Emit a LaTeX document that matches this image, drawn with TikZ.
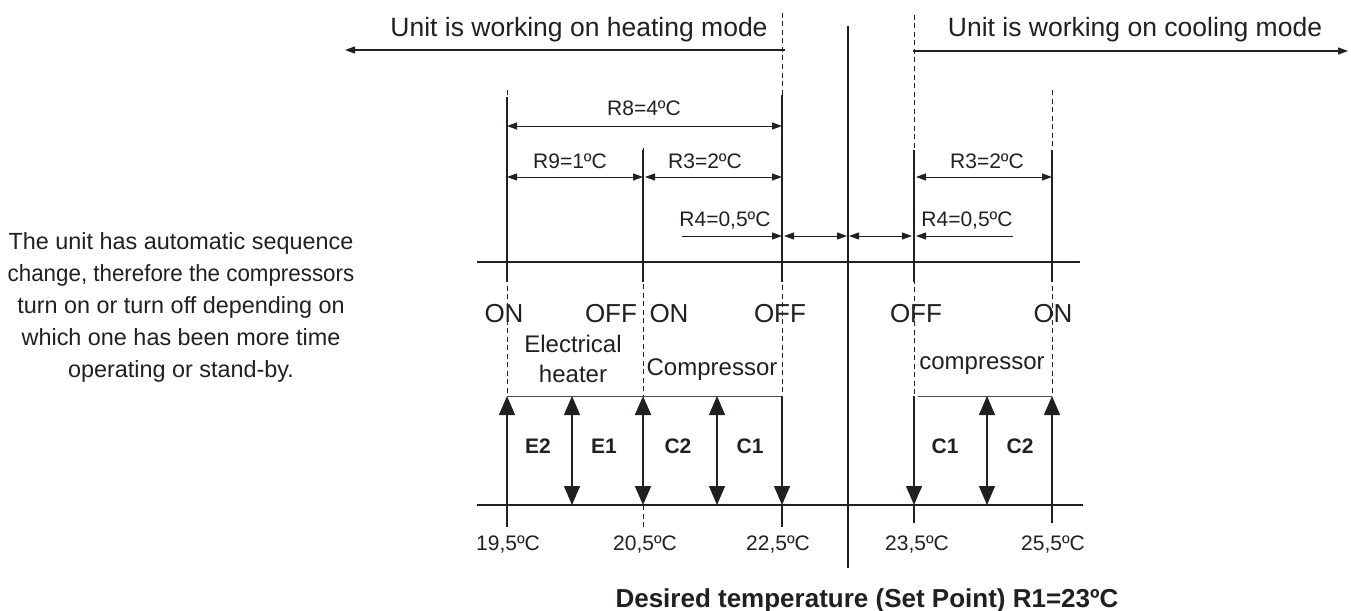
\documentclass[tikz,border=0pt]{standalone}
\usepackage{graphicx}
\usepackage{fontspec}
\setmainfont{Liberation Sans}
\usetikzlibrary{arrows.meta}
\definecolor{ink}{HTML}{231F20}
\newcommand\fhead{\fontsize{26.5}{30}\selectfont}
\newcommand\fonoff{\fontsize{26}{30}\selectfont}
\newcommand\fmid{\fontsize{24}{28}\selectfont}
\newcommand\fdimtxt{\fontsize{21}{25}\selectfont}
\newcommand\fboldlab{\fontsize{21}{25}\selectfont\bfseries}
\newcommand\ftitle{\fontsize{26}{30}\selectfont\bfseries}
\newcommand\fpara{\fontsize{23.4}{32}\selectfont}
\begin{document}
\begin{tikzpicture}[x=1pt,y=-1pt,
  every node/.style={inner sep=0pt, text=ink},
  solidln/.style={draw=ink, line width=1.3pt},
  thinln/.style={draw=ink!80, line width=1pt},
  dashln/.style={draw=ink, line width=0.9pt, dash pattern=on 5pt off 3.5pt},
  dimarr/.style={draw=ink, line width=1pt, {Triangle[length=10pt,width=7pt]}-{Triangle[length=10pt,width=7pt]}},
  dimone/.style={draw=ink, line width=1pt, -{Triangle[length=10pt,width=7pt]}},
  toparr/.style={draw=ink, line width=1.1pt, -{Triangle[length=10pt,width=7pt]}},
  bigup/.style={draw=ink, line width=1.3pt, -{Triangle[length=19pt,width=16pt]}},
  bigboth/.style={draw=ink, line width=1.3pt, {Triangle[length=19pt,width=16pt]}-{Triangle[length=19pt,width=16pt]}}
]
\useasboundingbox (0,0) rectangle (1351,610);

% key coordinates
\coordinate (hL) at (345,50);
\coordinate (hR) at (785,50);
\coordinate (cL) at (913,51);
\coordinate (cR) at (1348,51);
\coordinate (midT) at (848,26);
\coordinate (midB) at (848,568);

% texts top
\node[anchor=base] (heat) at (579,37) {\fhead Unit is working on heating mode};
\node[anchor=base] (cool) at (1135,37) {\fhead Unit is working on cooling mode};
\draw[toparr] (hR) -- (hL);
\draw[toparr] (cL) -- (cR);

% central line
\draw[ink, line width=1.6pt] (midT) -- (midB);

% vertical extension lines
\draw[dashln] (507,90) -- (507,396);
\draw[solidln] (507,97) -- (507,282);
\draw[dashln] (643,148) -- (643,396);
\draw[solidln] (643,150) -- (643,282);
\draw[dashln] (643,505) -- (643,527);
\draw[dashln] (782,13) -- (782,396);
\draw[solidln] (782,95) -- (782,282);
\draw[dashln] (914,15) -- (914,396);
\draw[solidln] (914,150) -- (914,282);
\draw[dashln] (1052,90) -- (1052,396);
\draw[solidln] (1052,150) -- (1052,282);

% horizontal lines
\draw[solidln] (477,262) -- (1080,262);
\draw[solidln] (477,505) -- (1083,505);

% dimension arrows
\draw[dimarr] (507,126) -- (782,126);
\node[anchor=base] (r8) at (644,115) {\fdimtxt R8=4ºC};
\draw[dimarr] (507,177) -- (643,177);
\node[anchor=base] (r9) at (570,168) {\fdimtxt R9=1ºC};
\draw[dimarr] (645,177) -- (782,177);
\node[anchor=base] (r3a) at (705,168) {\fdimtxt R3=2ºC};
\draw[dimone] (682,236) -- (782,236);
\node[anchor=base] (r4a) at (725,226) {\fdimtxt R4=0,5ºC};
\draw[dimarr] (784,236) -- (847,236);
\draw[dimarr] (849,236) -- (912,236);
\draw[dimone] (1013,236) -- (916,236);
\node[anchor=base] (r4b) at (967,226) {\fdimtxt R4=0,5ºC};
\draw[dimarr] (916,177) -- (1052,177);
\node[anchor=base] (r3b) at (987,168) {\fdimtxt R3=2ºC};

% ON / OFF
\node[anchor=base] (on1) at (504,322) {\fonoff ON};
\node[anchor=base] (off1) at (611,322) {\fonoff OFF};
\node[anchor=base] (on2) at (669,322) {\fonoff ON};
\node[anchor=base] (off2) at (780,322) {\fonoff OFF};
\node[anchor=base] (off3) at (916,322) {\fonoff OFF};
\node[anchor=base] (on3) at (1053,322) {\fonoff ON};

\node[anchor=base] (elec) at (573,352) {\fmid Electrical};
\node[anchor=base] (heater) at (573,382) {\fmid heater};
\node[anchor=base] (compA) at (712,375) {\fmid Compressor};
\node[anchor=base] (compB) at (982,369) {\fmid compressor};

% box top lines
\draw[thinln] (507,396) -- (782,396);
\draw[thinln] (918,396) -- (1052,396);

% vertical big arrows
\draw[bigup] (507,527) -- (507,396);
\draw[bigboth] (572,396) -- (572,505);
\draw[bigboth, line width=2pt] (643,396) -- (643,505);
\draw[bigboth] (717,396) -- (717,505);
\draw[bigup] (782,396) -- (782,505);
\draw[solidln] (782,505) -- (782,527);
\draw[bigup] (914,396) -- (914,505);
\draw[solidln] (914,505) -- (914,523);
\draw[bigboth] (987,396) -- (987,505);
\draw[bigup] (1052,523) -- (1052,396);

% bold labels
\node[anchor=base] (e2) at (538,453) {\fboldlab E2};
\node[anchor=base] (e1) at (604,453) {\fboldlab E1};
\node[anchor=base] (c2a) at (678,453) {\fboldlab C2};
\node[anchor=base] (c1a) at (750,453) {\fboldlab C1};
\node[anchor=base] (c1b) at (945,453) {\fboldlab C1};
\node[anchor=base] (c2b) at (1020,453) {\fboldlab C2};

% temperatures
\node[anchor=base] (t195) at (508,550) {\fdimtxt 19,5ºC};
\node[anchor=base] (t205) at (645,550) {\fdimtxt 20,5ºC};
\node[anchor=base] (t225) at (778,550) {\fdimtxt 22,5ºC};
\node[anchor=base] (t235) at (917,550) {\fdimtxt 23,5ºC};
\node[anchor=base] (t255) at (1053,550) {\fdimtxt 25,5ºC};

% title
\node[anchor=base] (title) at (867,607) {\ftitle Desired temperature (Set Point) R1=23ºC};

% paragraph
\node[align=center, anchor=center, font=\fpara] (para) at (181,307) {The unit has automatic sequence\\\scalebox{0.955}[1]{change, therefore the compressors}\\turn on or turn off depending on\\which one has been more time\\operating or stand-by.};
\end{tikzpicture}
\end{document}
